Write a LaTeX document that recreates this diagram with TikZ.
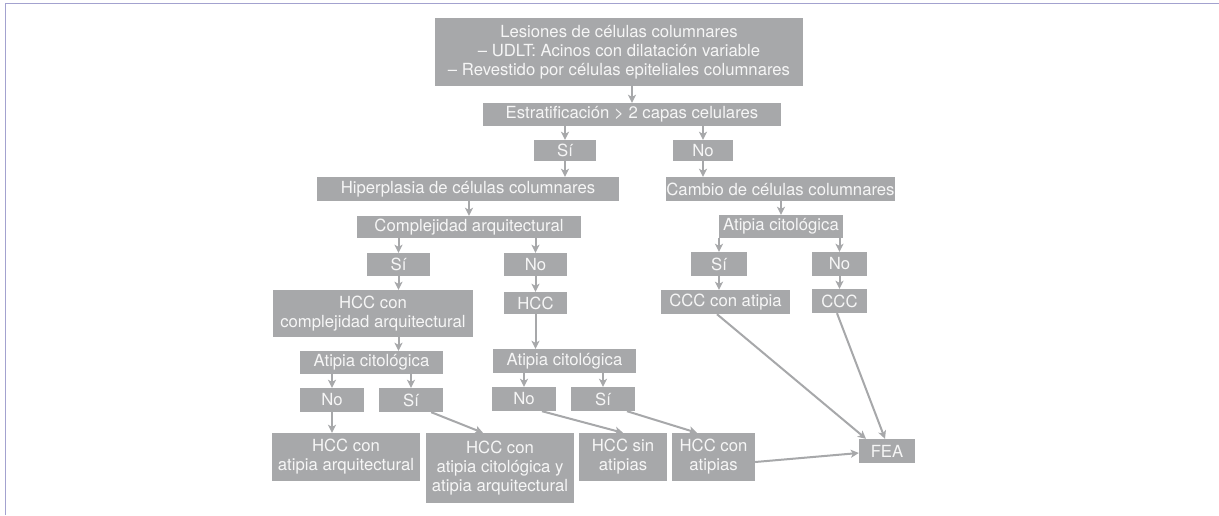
\documentclass[tikz,border=0pt]{standalone}
\usepackage{fontspec}
\setmainfont{TeX Gyre Heros}
\usetikzlibrary{arrows.meta}
\definecolor{boxgray}{HTML}{A7A8AA}
\definecolor{boxtext}{HTML}{F6F6F6}
\definecolor{framecol}{HTML}{A3A2CF}
\tikzset{
  box/.style={fill=boxgray, text=boxtext, inner sep=0pt, align=center,
    font=\fontsize{16.7}{19}\selectfont},
  arr/.style={draw=boxgray, line width=2pt,
    -{Stealth[length=8pt,width=8pt,inset=2pt]}},
  frame/.style={draw=framecol, line width=1.6pt}
}
\newcommand{\bx}[6]{% name, cx, cy, w, h, text
  \node[box, minimum width=#4pt, minimum height=#5pt] (#1) at (#2,#3) {#6};}
\begin{document}
\begin{tikzpicture}[x=1pt,y=-1pt]
\useasboundingbox (0,0) rectangle (1219,515);
\fill[white] (0,0) rectangle (1219,515);
% frame lines
\draw[frame] (5.5,515) -- (5.5,3.5) -- (1219,3.5);

% boxes
\bx{les}{619}{52}{368}{68}{Lesiones de células columnares\\– UDLT: Acinos con dilatación variable\\– Revestido por células epiteliales columnares}
\bx{est}{632}{114.5}{298}{23}{Estratificación > 2 capas celulares}
\bx{siA}{565}{150.5}{62}{21}{Sí}
\bx{noA}{703}{150.5}{60}{21}{No}
\bx{hip}{468}{189}{302}{24}{Hiperplasia de células columnares}
\bx{cam}{780.5}{189}{217}{24}{Cambio de células columnares}
\bx{com}{469}{227}{224}{22}{Complejidad arquitectural}
\bx{siB}{398.5}{264.5}{63}{23}{Sí}
\bx{noB}{535.5}{264.5}{63}{23}{No}
\bx{hcccom}{373}{313.5}{200}{47}{HCC con\\complejidad arquitectural}
\bx{hcc}{535.5}{303}{63}{22}{HCC}
\bx{atA}{371.5}{362.5}{143}{23}{Atipia citológica}
\bx{atB}{564.5}{361}{143}{24}{Atipia citológica}
\bx{noC}{332}{400}{64}{24}{No}
\bx{siC}{411}{400}{64}{24}{Sí}
\bx{noD}{524}{399}{64}{24}{No}
\bx{siD}{603}{399}{64}{24}{Sí}
\bx{rA}{346}{457}{148}{48}{HCC con\\atipia arquitectural}
\bx{rB}{500}{468}{148}{70}{HCC con\\atipia citológica y\\atipia arquitectural}
\bx{rC}{623}{457}{88}{48}{HCC sin\\atipias}
\bx{rD}{713.5}{457}{83}{48}{HCC con\\atipias}
\bx{atC}{781}{226.5}{124}{23}{Atipia citológica}
\bx{siE}{719}{264}{56}{24}{Sí}
\bx{noE}{839.5}{264}{55}{24}{No}
\bx{ccca}{725.5}{302}{129}{24}{CCC con atipia}
\bx{ccc}{839.5}{301}{55}{24}{CCC}
\bx{fea}{887}{451}{56}{24}{FEA}

% connectors
\draw[arr] (est.north |- les.south) -- (est.north);
\draw[arr] (siA.north |- est.south) -- (siA.north);
\draw[arr] (noA.north |- est.south) -- (noA.north);
\draw[arr] (siA.south) -- (siA.south |- hip.north);
\draw[arr] (noA.south) -- (noA.south |- cam.north);
\draw[arr] (com.north |- hip.south) -- (com.north);
\draw[arr] (siB.north |- com.south) -- (siB.north);
\draw[arr] (noB.north |- com.south) -- (noB.north);
\draw[arr] (siB.south) -- (siB.south |- hcccom.north);
\draw[arr] (noB.south) -- (hcc.north);
\draw[arr] (hcc.south) -- (hcc.south |- atB.north);
\draw[arr] (hcccom.south -| siB.south) -- (atA.north -| siB.south);
\draw[arr] (noC.north |- atA.south) -- (noC.north);
\draw[arr] (siC.north |- atA.south) -- (siC.north);
\draw[arr] (noC.south) -- (noC.south |- rA.north);
\draw[arr] ([xshift=-12pt]siC.south east) -- ([xshift=-17pt]rB.north);
\draw[arr] (noD.north |- atB.south) -- (noD.north);
\draw[arr] (siD.north |- atB.south) -- (siD.north);
\draw[arr] ([xshift=18pt]noD.south) -- (rC.north);
\draw[arr] ([xshift=24pt]siD.south) -- ([xshift=-16.5pt]rD.north);
\draw[arr] (atC.north |- cam.south) -- (atC.north);
\draw[arr] (siE.north |- atC.south) -- (siE.north);
\draw[arr] (noE.north |- atC.south) -- (noE.north);
\draw[arr] (siE.south) -- (siE.south |- ccca.north);
\draw[arr] (noE.south) -- (ccc.north);
\draw[arr] ([xshift=-8.5pt]ccca.south) -- ([xshift=-21pt]fea.north);
\draw[arr] ([xshift=-2.5pt]ccc.south) -- ([xshift=-2pt]fea.north);
\draw[arr] ([yshift=-5pt]rD.east) -- ([yshift=-2pt]fea.west);
\end{tikzpicture}
\end{document}
